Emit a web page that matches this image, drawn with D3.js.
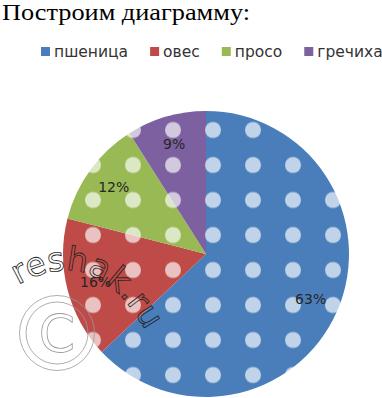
<!DOCTYPE html>
<html>
<head>
<meta charset="utf-8">
<script src="https://cdn.jsdelivr.net/npm/d3@7"></script>
<style>
  html, body { margin: 0; padding: 0; background: #fff; }
  svg { display: block; }
</style>
</head>
<body>
<div id="chart"></div>
<script>
// crop shares
var crops = ["пшеница", "овес", "просо", "гречиха"];
var shares = [63, 16, 12, 9];
var labels = ["63%", "16%", "12%", "9%"];
var colors = ["#4a7ebb", "#be4b48", "#98b954", "#7d60a0"];

var width = 382, height = 398;
var cx = 206, cy = 254, R = 143;

var svg = d3.select("#chart").append("svg")
    .attr("width", width)
    .attr("height", height);

// dotted fill pattern, one per slice colour (grid is in the pie group's space)
var defs = svg.append("defs");
colors.forEach(function(c, i){
    var p = defs.append("pattern")
        .attr("id", "dots" + i)
        .attr("patternUnits", "userSpaceOnUse")
        .attr("x", 13 - 20 - cx).attr("y", 130 - 17.5 - cy)
        .attr("width", 40).attr("height", 35);
    p.append("rect").attr("width", 40).attr("height", 35).attr("fill", c);
    p.append("circle").attr("cx", 20).attr("cy", 17.5).attr("r", 8)
        .attr("fill", "#ffffff").attr("fill-opacity", 0.66);
});

// title
svg.append("text")
    .attr("x", 2).attr("y", 20)
    .attr("font-family", "'Liberation Serif', 'Times New Roman', serif")
    .attr("font-size", 23.5)
    .attr("fill", "#000")
    .attr("textLength", 248)
    .attr("lengthAdjust", "spacingAndGlyphs")
    .text("Построим диаграмму:");

// legend
var legend = svg.append("g").attr("class", "legend");
var lx = 41;
crops.forEach(function(name, i){
    var g = legend.append("g").attr("transform", "translate(" + lx + ",0)");
    g.append("rect").attr("x", 0).attr("y", 47).attr("width", 9).attr("height", 9)
        .attr("fill", colors[i]);
    var t = g.append("text")
        .attr("x", 13).attr("y", 57)
        .attr("font-family", "'DejaVu Sans', sans-serif")
        .attr("font-size", 15.5)
        .attr("fill", "#333")
        .text(name);
    lx += 13 + t.node().getComputedTextLength() + 22;
});

// pie
var pie = d3.pie().sort(null).value(function(d){ return d; });
var arc = d3.arc().innerRadius(0).outerRadius(R);
var labelArc = d3.arc().innerRadius(114).outerRadius(114);

var g = svg.append("g").attr("transform", "translate(" + cx + "," + cy + ")");
var slices = pie(shares);

g.selectAll("path.slice").data(slices)
    .enter().append("path")
    .attr("class", "slice")
    .attr("d", arc)
    .attr("fill", function(d, i){ return "url(#dots" + i + ")"; });

g.selectAll("text.lbl").data(slices)
    .enter().append("text")
    .attr("class", "lbl")
    .attr("transform", function(d){ return "translate(" + labelArc.centroid(d) + ")"; })
    .attr("text-anchor", "middle")
    .attr("dy", "0.35em")
    .attr("font-family", "'DejaVu Sans', sans-serif")
    .attr("font-size", 14)
    .attr("fill", "#262626")
    .text(function(d, i){ return labels[i]; });

// watermark
var wm = svg.append("g").attr("class", "watermark");
wm.append("circle").attr("cx", 57).attr("cy", 333).attr("r", 37.5)
    .attr("fill", "none").attr("stroke", "#999").attr("stroke-width", 0.8);
wm.append("circle").attr("cx", 57).attr("cy", 333).attr("r", 31)
    .attr("fill", "none").attr("stroke", "#999").attr("stroke-width", 0.8);
wm.append("text")
    .attr("x", 57).attr("y", 333).attr("dy", "0.36em")
    .attr("text-anchor", "middle")
    .attr("font-family", "'DejaVu Sans', sans-serif")
    .attr("font-size", 52)
    .attr("fill", "none").attr("stroke", "#999").attr("stroke-width", 0.8)
    .text("C");
defs.append("path").attr("id", "wmPath")
    .attr("d", "M18,285 Q105,235 158,356");
wm.append("text")
    .attr("font-family", "'DejaVu Sans', sans-serif")
    .attr("font-size", 33)
    .attr("fill", "none").attr("stroke", "#222").attr("stroke-width", 0.8)
  .append("textPath")
    .attr("href", "#wmPath")
    .text("reshak.ru");
</script>
</body>
</html>
